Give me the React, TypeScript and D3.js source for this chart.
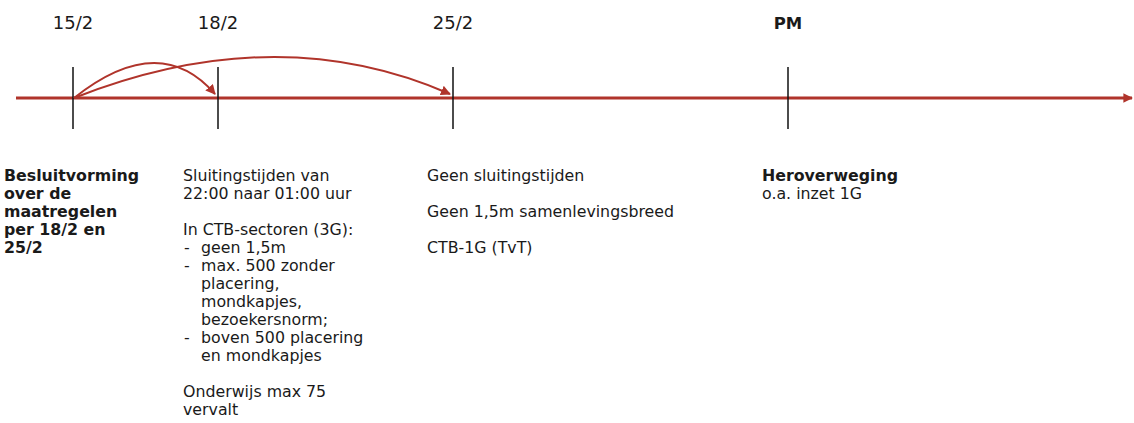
import React, { useRef, useEffect } from "react";
import * as d3 from "d3";

// milestones on the time axis
const milestones = ["15/2", "18/2", "25/2", "PM"];
const milestoneBold = [false, false, false, true];

// arrows: from milestone index to milestone index, with arc height (px above axis)
const arrowFrom = [0, 0];
const arrowTo = [1, 2];
const arrowLift = [68, 80];

// text blocks per milestone; "" = blank line, "- " prefix = bullet, "  " prefix = hanging continuation
const col0 = ["Besluitvorming", "over de", "maatregelen", "per 18/2 en", "25/2"];
const col1 = [
  "Sluitingstijden van",
  "22:00 naar 01:00 uur",
  "",
  "In CTB-sectoren (3G):",
  "- geen 1,5m",
  "- max. 500 zonder",
  "  placering,",
  "  mondkapjes,",
  "  bezoekersnorm;",
  "- boven 500 placering",
  "  en mondkapjes",
  "",
  "Onderwijs max 75",
  "vervalt",
];
const col2 = ["Geen sluitingstijden", "", "Geen 1,5m samenlevingsbreed", "", "CTB-1G (TvT)"];
const col3 = ["Heroverweging", "o.a. inzet 1G"];
const columns = [col0, col1, col2, col3];
const columnBoldLines = [[0, 1, 2, 3, 4], [], [], [0]];

const W = 1134;
const H = 423;
const RED = "#b0342b";
const INK = "#1a1a1a";

export default function App() {
  const svgRef = useRef<SVGSVGElement>(null);

  useEffect(() => {
    const svg = d3.select(svgRef.current);
    svg.selectAll("*").remove();

    const x = d3.scaleLinear().domain([0, 1, 2, 3]).range([73, 218, 453, 788]);
    const axisY = 98;
    const textX = d3.scaleLinear().domain([0, 1, 2, 3]).range([4, 183, 427, 762]);
    const lineY = d3.scaleLinear().domain([0, 1]).range([181, 199]);
    const font = "'DejaVu Sans', Verdana, sans-serif";

    const defs = svg.append("defs");
    defs
      .append("marker")
      .attr("id", "arrowRed")
      .attr("viewBox", "0 0 10 10")
      .attr("refX", 9)
      .attr("refY", 5)
      .attr("markerWidth", 5)
      .attr("markerHeight", 5)
      .attr("markerUnits", "strokeWidth")
      .attr("orient", "auto")
      .append("path")
      .attr("d", "M0,0 L10,5 L0,10 z")
      .attr("fill", RED);
    defs
      .append("marker")
      .attr("id", "axisHead")
      .attr("viewBox", "0 0 10 10")
      .attr("refX", 9)
      .attr("refY", 5)
      .attr("markerWidth", 3.2)
      .attr("markerHeight", 4)
      .attr("markerUnits", "strokeWidth")
      .attr("orient", "auto")
      .append("path")
      .attr("d", "M0,0 L10,5 L0,10 z")
      .attr("fill", RED);

    // main axis
    svg
      .append("line")
      .attr("x1", 16)
      .attr("x2", W - 2)
      .attr("y1", axisY)
      .attr("y2", axisY)
      .attr("stroke", RED)
      .attr("stroke-width", 3)
      .attr("marker-end", "url(#axisHead)");

    // ticks
    svg
      .selectAll(".tick")
      .data(milestones)
      .join("line")
      .attr("class", "tick")
      .attr("x1", (_, i) => x(i))
      .attr("x2", (_, i) => x(i))
      .attr("y1", 67)
      .attr("y2", 129)
      .attr("stroke", "#111")
      .attr("stroke-width", 1.5);

    // milestone labels
    svg
      .selectAll(".mlabel")
      .data(milestones)
      .join("text")
      .attr("class", "mlabel")
      .attr("x", (_, i) => x(i))
      .attr("y", 29)
      .attr("text-anchor", "middle")
      .attr("font-family", font)
      .attr("font-size", (_, i) => (milestoneBold[i] ? 16.5 : 18))
      .attr("font-weight", (_, i) => (milestoneBold[i] ? "bold" : "normal"))
      .attr("fill", INK)
      .text((d) => d);

    // curved arrows
    svg
      .selectAll(".arc")
      .data(arrowFrom)
      .join("path")
      .attr("class", "arc")
      .attr("d", (from, i) => {
        const x0 = x(from) + 1;
        const x1 = x(arrowTo[i]) - 3;
        const y1 = axisY - 4;
        const p = d3.path();
        p.moveTo(x0, axisY);
        p.quadraticCurveTo((x0 + x1) / 2 + 15, axisY - arrowLift[i], x1, y1);
        return p.toString();
      })
      .attr("fill", "none")
      .attr("stroke", RED)
      .attr("stroke-width", 2)
      .attr("marker-end", "url(#arrowRed)");

    // text columns
    columns.forEach((lines, c) => {
      const g = svg.append("g").attr("font-family", font).attr("font-size", 15.8).attr("fill", INK);
      lines.forEach((line, li) => {
        if (!line) return;
        const bold = columnBoldLines[c].includes(li);
        const y = lineY(li);
        if (line.startsWith("- ")) {
          g.append("text").attr("x", textX(c) + 1).attr("y", y).text("-");
          g.append("text").attr("x", textX(c) + 18).attr("y", y).text(line.slice(2));
        } else if (line.startsWith("  ")) {
          g.append("text").attr("x", textX(c) + 18).attr("y", y).text(line.slice(2));
        } else {
          g.append("text")
            .attr("x", textX(c))
            .attr("y", y)
            .attr("font-weight", bold ? "bold" : "normal")
            .text(line);
        }
      });
    });
  }, []);

  return (
    <>
      <style>{"body{margin:0}"}</style>
      <svg ref={svgRef} width={W} height={H} style={{ display: "block", background: "#fff" }} />
    </>
  );
}
